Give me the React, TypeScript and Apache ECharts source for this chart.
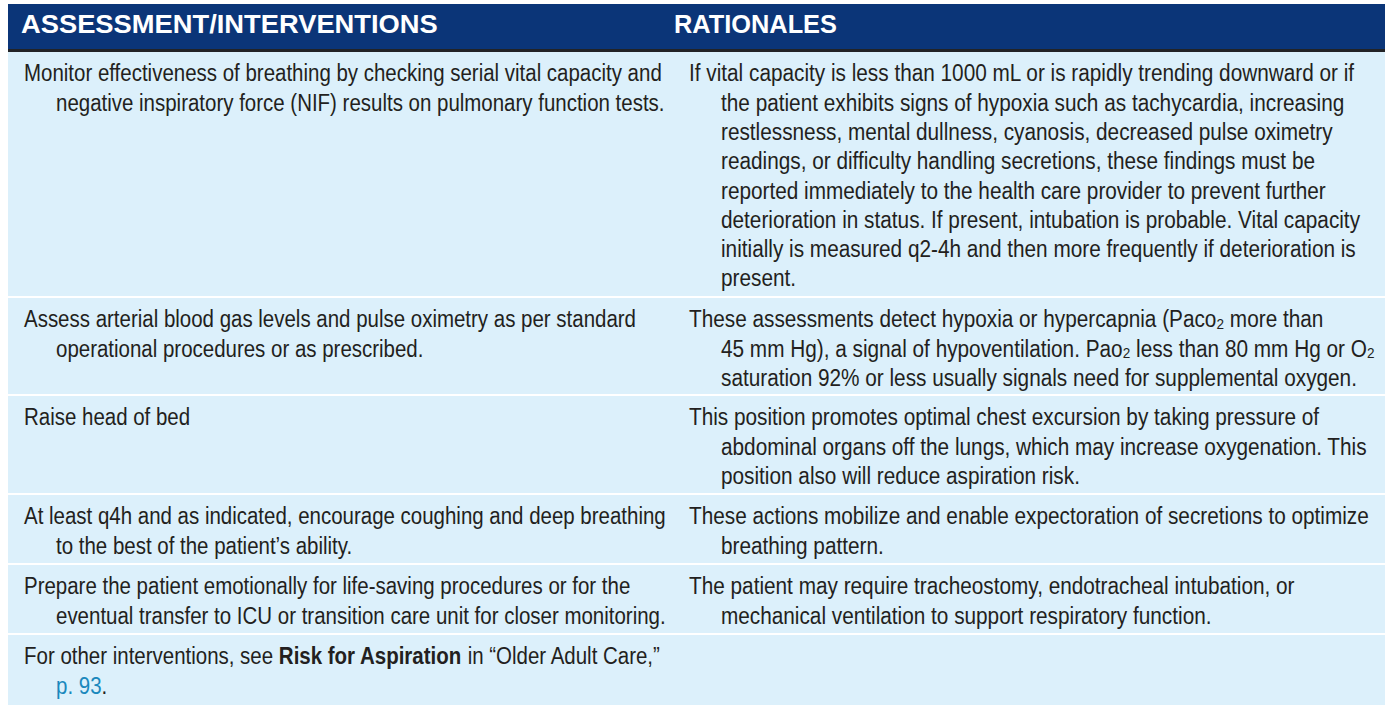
import React, { useEffect, useRef } from "react";
import * as echarts from "echarts";

// ---- table content ----
const headers = ["ASSESSMENT/INTERVENTIONS", "RATIONALES"];

const interventions: string[][] = [
  [
    "Monitor effectiveness of breathing by checking serial vital capacity and",
    "negative inspiratory force (NIF) results on pulmonary function tests.",
  ],
  [
    "Assess arterial blood gas levels and pulse oximetry as per standard",
    "operational procedures or as prescribed.",
  ],
  ["Raise head of bed"],
  [
    "At least q4h and as indicated, encourage coughing and deep breathing",
    "to the best of the patient\u2019s ability.",
  ],
  [
    "Prepare the patient emotionally for life-saving procedures or for the",
    "eventual transfer to ICU or transition care unit for closer monitoring.",
  ],
  [
    "For other interventions, see {b|Risk for Aspiration} in \u201cOlder Adult Care,\u201d",
    "{link|p. 93}.",
  ],
];

const rationales: string[][] = [
  [
    "If vital capacity is less than 1000 mL or is rapidly trending downward or if",
    "the patient exhibits signs of hypoxia such as tachycardia, increasing",
    "restlessness, mental dullness, cyanosis, decreased pulse oximetry",
    "readings, or difficulty handling secretions, these findings must be",
    "reported immediately to the health care provider to prevent further",
    "deterioration in status. If present, intubation is probable. Vital capacity",
    "initially is measured q2-4h and then more frequently if deterioration is",
    "present.",
  ],
  [
    "These assessments detect hypoxia or hypercapnia (Paco{sub|2} more than",
    "45 mm Hg), a signal of hypoventilation. Pao{sub|2} less than 80 mm Hg or O{sub|2}",
    "saturation 92% or less usually signals need for supplemental oxygen.",
  ],
  [
    "This position promotes optimal chest excursion by taking pressure of",
    "abdominal organs off the lungs, which may increase oxygenation. This",
    "position also will reduce aspiration risk.",
  ],
  [
    "These actions mobilize and enable expectoration of secretions to optimize",
    "breathing pattern.",
  ],
  [
    "The patient may require tracheostomy, endotracheal intubation, or",
    "mechanical ventilation to support respiratory function.",
  ],
  [],
];

// ---- layout ----
const TABLE_LEFT = 8;
const TABLE_RIGHT = 1385;
const HEADER_TOP = 4;
const HEADER_BOTTOM = 49;
const RULE_H = 3;
const ROW_TOPS = [52, 298, 396, 495, 565, 635];
const ROW_BOTTOMS = [296, 394, 493, 563, 633, 705];
const COL_X = [24, 689];
const HEAD_X = [21, 674];
const HEAD_W = [417, 163]; // widths of the header words in the reference
const CALIB_W = [638, 666]; // width of each column's first line in the reference
const INDENT = 32;
const FIRST_LINE = 21.5;
const LINE_H = 29.3;

const BODY_FONT = "'Liberation Sans', Arial, Helvetica, sans-serif";
const HEAD_FONT = "'Liberation Sans', Arial, Helvetica, sans-serif";
const TEXT_COLOR = "#231f20";
const BODY_SIZE = 23;
const HEAD_SIZE = 25;

function measure(text: string, font: string): number {
  const ctx = document.createElement("canvas").getContext("2d");
  if (!ctx) return text.length * 10;
  ctx.font = font;
  return ctx.measureText(text).width;
}

const rich = {
  b: { fontFamily: BODY_FONT, fontSize: BODY_SIZE, fontWeight: "bold", fill: TEXT_COLOR },
  link: { fontFamily: BODY_FONT, fontSize: BODY_SIZE, fill: "#1a88bd" },
  sub: { fontFamily: BODY_FONT, fontSize: 15, fill: TEXT_COLOR, padding: [8, 0, 0, 0] },
};

function buildGraphic() {
  const colScale = [
    CALIB_W[0] / measure(interventions[0][0], `${BODY_SIZE}px ${BODY_FONT}`),
    CALIB_W[1] / measure(rationales[0][0], `${BODY_SIZE}px ${BODY_FONT}`),
  ];
  const els: any[] = [];
  els.push({
    type: "rect",
    shape: { x: TABLE_LEFT, y: HEADER_TOP, width: TABLE_RIGHT - TABLE_LEFT, height: HEADER_BOTTOM - HEADER_TOP },
    style: { fill: "#0b3578" },
  });
  els.push({
    type: "rect",
    shape: { x: TABLE_LEFT, y: HEADER_BOTTOM, width: TABLE_RIGHT - TABLE_LEFT, height: RULE_H },
    style: { fill: "#222326" },
  });
  headers.forEach((h, i) => {
    const w = measure(h, `bold ${HEAD_SIZE}px ${HEAD_FONT}`);
    els.push({
      type: "text",
      x: HEAD_X[i],
      y: 24,
      scaleX: HEAD_W[i] / w,
      style: {
        text: h,
        fontFamily: HEAD_FONT,
        fontSize: HEAD_SIZE,
        fontWeight: "bold",
        fill: "#ffffff",
        align: "left",
        verticalAlign: "middle",
      },
    });
  });
  ROW_TOPS.forEach((top, r) => {
    els.push({
      type: "rect",
      shape: { x: TABLE_LEFT, y: top, width: TABLE_RIGHT - TABLE_LEFT, height: ROW_BOTTOMS[r] - top },
      style: { fill: "#dcf0fb" },
    });
    [interventions[r], rationales[r]].forEach((lines, c) => {
      lines.forEach((line, li) => {
        els.push({
          type: "text",
          x: COL_X[c] + (li > 0 ? INDENT : 0),
          y: top + FIRST_LINE + li * LINE_H,
          scaleX: colScale[c],
          style: {
            text: line,
            fontFamily: BODY_FONT,
            fontSize: BODY_SIZE,
            fill: TEXT_COLOR,
            align: "left",
            verticalAlign: "middle",
            rich,
          },
        });
      });
    });
  });
  return els;
}

export default function App() {
  const ref = useRef<HTMLDivElement>(null);
  useEffect(() => {
    if (!ref.current) return;
    const chart = echarts.init(ref.current, null, { renderer: "svg" });
    chart.setOption({
      animation: false,
      backgroundColor: "#ffffff",
      graphic: { elements: buildGraphic() },
    });
    return () => chart.dispose();
  }, []);
  return (
    <div
      ref={ref}
      style={{ position: "absolute", left: 0, top: 0, width: 1385, height: 705 }}
    />
  );
}
